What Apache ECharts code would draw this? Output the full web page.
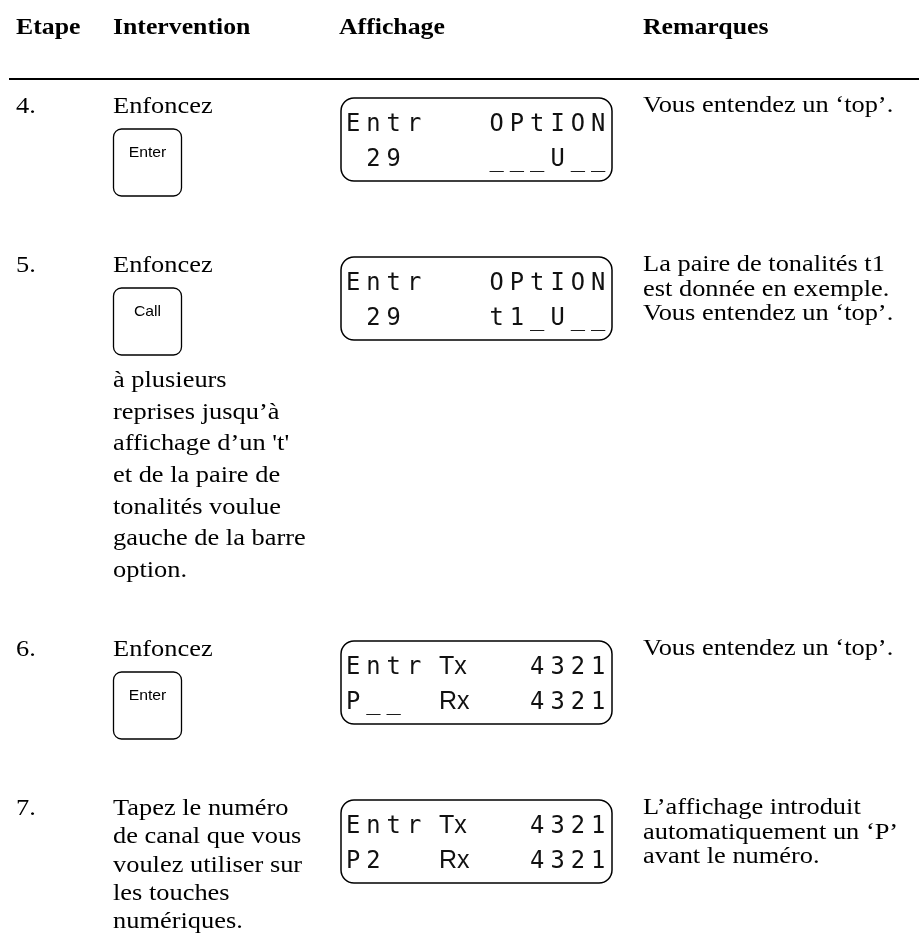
<!DOCTYPE html>
<html>
<head>
<meta charset="utf-8">
<script src="https://cdn.jsdelivr.net/npm/echarts@6/dist/echarts.min.js"></script>
<style>
html,body{margin:0;padding:0;background:#fff;}
#chart{width:919px;height:945px;}
</style>
</head>
<body>
<div id="chart"></div>
<script>
// ---- content ----
const headers = ["Etape", "Intervention", "Affichage", "Remarques"];
const stepNumbers = ["4.", "5.", "6.", "7."];
const interventions = [
  ["Enfoncez"],
  ["Enfoncez"],
  ["Enfoncez"],
  ["Tapez le numéro", "de canal que vous", "voulez utiliser sur", "les touches", "numériques."]
];
const buttonLabels = ["Enter", "Call", "Enter", null];
const afterButton = [
  [],
  ["à plusieurs", "reprises jusqu’à", "affichage d’un 't'", "et de la paire de", "tonalités voulue", "gauche de la barre", "option."],
  [],
  []
];
const lcdLeft = [["Entr", " 29"], ["Entr", " 29"], ["Entr", "P__"], ["Entr", "P2"]];
const lcdMid = [["", ""], ["", ""], ["Tx", "Rx"], ["Tx", "Rx"]];
const lcdRight = [["OPtION", "___U__"], ["OPtION", "t1_U__"], ["4321", "4321"], ["4321", "4321"]];
const remarks = [
  ["Vous entendez un ‘top’."],
  ["La paire de tonalités t1", "est donnée en exemple.", "Vous entendez un ‘top’."],
  ["Vous entendez un ‘top’."],
  ["L’affichage introduit", "automatiquement un ‘P’", "avant le numéro."]
];

// ---- layout ----
const rowY = [107, 266, 650, 809];
const colX = [16, 113, 341, 643];
const SX = 1.1;
const BODY = '24px "Liberation Serif"';
const HEAD = 'bold 23px "Liberation Serif"';
const LCD_FONT = '25px "DejaVu Sans Mono"';
const MID_FONT = '25px "Liberation Sans"';
const PITCH = 20.3;

const els = [];
function txt(x, y, s, font, opts) {
  opts = opts || {};
  els.push({
    type: 'text', x: x, y: y, scaleX: opts.sx !== undefined ? opts.sx : SX,
    style: {
      text: s, font: font, fill: opts.fill || '#000',
      align: opts.align || 'left', verticalAlign: 'middle',
      textAlign: opts.align || 'left', textVerticalAlign: 'middle'
    },
    silent: true
  });
}

// header
const headX = [16, 113, 339, 643];
headers.forEach((h, i) => txt(headX[i], 28, h, HEAD, {sx: 1.12}));
els.push({type: 'line', shape: {x1: 9, y1: 79, x2: 919, y2: 79}, style: {stroke: '#000', lineWidth: 2.2}});

rowY.forEach((y0, r) => {
  txt(colX[0], y0, stepNumbers[r], BODY);
  interventions[r].forEach((s, k) => txt(colX[1], y0 + k * 28.2, s, BODY));
  if (buttonLabels[r]) {
    const by = y0 + 22;
    els.push({type: 'rect', shape: {x: 113.5, y: by, width: 68, height: 67, r: 8},
      style: {fill: '#fff', stroke: '#000', lineWidth: 1.3}});
    txt(147.5, by + 24, buttonLabels[r], '15px "Liberation Sans"', {align: 'center', sx: 1.05});
    afterButton[r].forEach((s, k) => txt(colX[1], by + 93 + k * 31.6, s, BODY));
  }
  // LCD
  const bx = colX[2], bt = y0 - 9;
  els.push({type: 'rect', shape: {x: bx, y: bt, width: 271, height: 83, r: 13},
    style: {fill: 'none', stroke: '#000', lineWidth: 1.5}});
  [0, 1].forEach(l => {
    const ly = bt + 26 + l * 35;
    const L = lcdLeft[r][l];
    for (let i = 0; i < L.length; i++) if (L[i] !== ' ') txt(bx + 5 + i * PITCH, ly, L[i], LCD_FONT, {sx: 0.95, fill: '#111'});
    const R = lcdRight[r][l];
    const rs = bx + 250 - (R.length - 1) * PITCH;
    for (let i = 0; i < R.length; i++) if (R[i] !== ' ') txt(rs + i * PITCH, ly, R[i], LCD_FONT, {sx: 0.95, fill: '#111'});
    const M = lcdMid[r][l];
    if (M) txt(bx + 98, ly, M, MID_FONT, {sx: 1, fill: '#111'});
  });
  remarks[r].forEach((s, k) => txt(colX[3], y0 - 1 + k * 24.5, s, BODY));
});

const chart = echarts.init(document.getElementById('chart'), null, {renderer: 'canvas'});
chart.setOption({
  backgroundColor: '#fff',
  animation: false,
  graphic: {elements: els}
});
</script>
</body>
</html>
